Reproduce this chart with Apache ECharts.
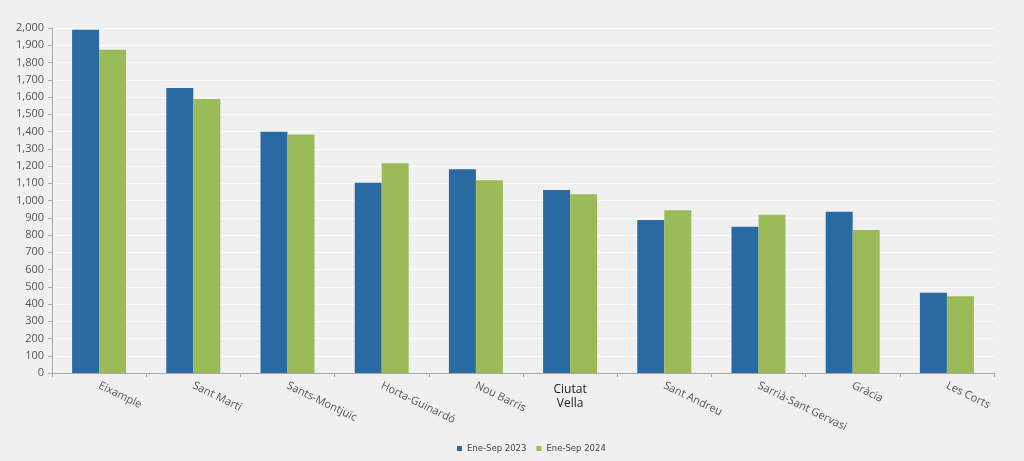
<!DOCTYPE html>
<html>
<head>
<meta charset="utf-8">
<script src="https://cdn.jsdelivr.net/npm/echarts@6/dist/echarts.min.js"></script>
<style>
html,body{margin:0;padding:0;background:#f0f0f0;}
#c{width:1024px;height:461px;}
</style>
</head>
<body>
<div id="c"></div>
<script>
const categories = ['Eixample','Sant Martí','Sants-Montjuïc','Horta-Guinardó','Nou Barris','Ciutat Vella','Sant Andreu','Sarrià-Sant Gervasi','Gràcia','Les Corts'];
const series2023 = [1990, 1652, 1398, 1103, 1181, 1061, 887, 848, 935, 465];
const series2024 = [1874, 1589, 1382, 1216, 1117, 1036, 943, 918, 829, 445];
const seriesNames = ['Ene-Sep 2023', 'Ene-Sep 2024'];
const horizontalLabel = 'Ciutat Vella';

const chart = echarts.init(document.getElementById('c'), null, {renderer: 'canvas'});
const font = 'Open Sans, Lato, sans-serif';
chart.setOption({
  backgroundColor: '#f0f0f0',
  animation: false,
  grid: {left: 52, right: 30, top: 28, bottom: 88, containLabel: false},
  legend: {
    data: seriesNames,
    bottom: 3,
    left: 452,
    icon: 'rect',
    itemWidth: 5,
    itemHeight: 5,
    itemGap: 10,
    textStyle: {fontFamily: 'DejaVu Sans, Verdana, sans-serif', fontSize: 8.5, color: '#444'}
  },
  xAxis: [{
    type: 'category',
    data: categories,
    boundaryGap: true,
    axisLine: {lineStyle: {color: '#a8a8a8'}},
    axisTick: {show: true, length: 4, lineStyle: {color: '#a8a8a8'}},
    axisLabel: {
      interval: 0, rotate: -26, margin: 12,
      fontFamily: font, fontSize: 11, color: '#555',
      formatter: v => v === horizontalLabel ? '' : v
    }
  }, {
    type: 'category',
    data: categories,
    position: 'bottom',
    boundaryGap: true,
    axisLine: {show: false},
    axisTick: {show: false},
    axisLabel: {
      interval: 0, rotate: 0, margin: 10,
      fontFamily: font, fontSize: 12, color: '#222', lineHeight: 14,
      formatter: v => v === horizontalLabel ? v.replace(' ', '\n') : ''
    }
  }],
  yAxis: {
    type: 'value',
    min: 0, max: 2000, interval: 100,
    axisLine: {show: true, lineStyle: {color: '#a8a8a8'}},
    axisTick: {show: true, length: 4, lineStyle: {color: '#a8a8a8'}},
    axisLabel: {
      fontFamily: font, fontSize: 11, color: '#555', margin: 8,
      formatter: v => v.toLocaleString('en-US')
    },
    splitLine: {lineStyle: {color: '#fbfbfb', width: 1}}
  },
  series: [{
    name: seriesNames[0], type: 'bar', xAxisIndex: 0,
    data: series2023, barWidth: 27, barGap: '0%',
    itemStyle: {color: '#2a6aa2'}
  }, {
    name: seriesNames[1], type: 'bar', xAxisIndex: 0,
    data: series2024, barWidth: 27, barGap: '0%',
    itemStyle: {color: '#9bbb59'}
  }]
});
</script>
</body>
</html>
